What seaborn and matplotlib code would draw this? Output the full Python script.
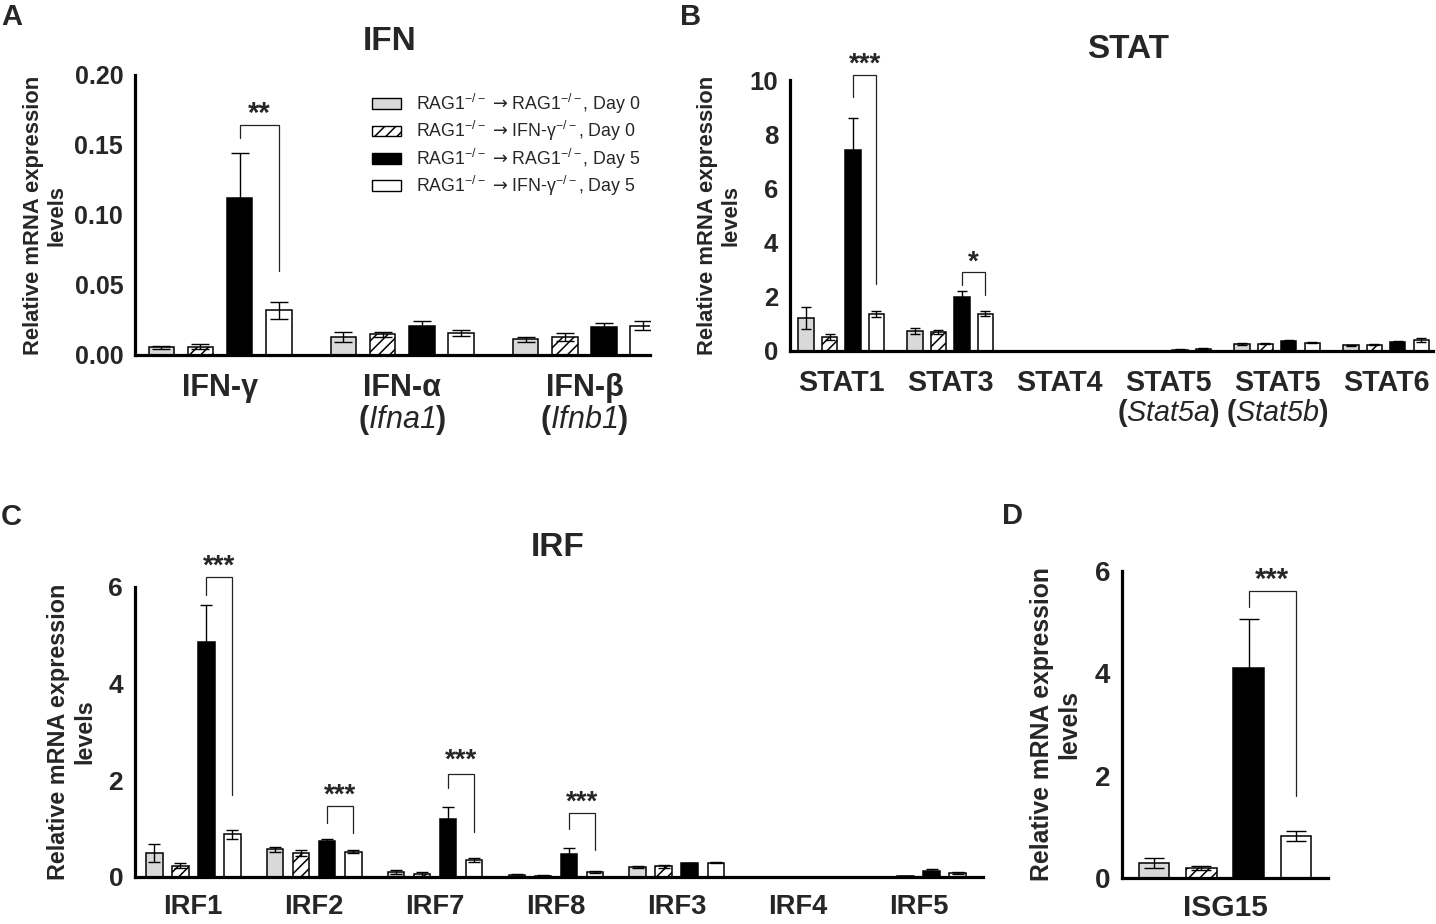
import numpy as np
import pandas as pd
import matplotlib
matplotlib.use("Agg")
import matplotlib.pyplot as plt
from matplotlib.patches import Patch
import seaborn as sns

sns.set_style("white")
plt.rcParams['font.family'] = ['Liberation Sans', 'DejaVu Sans']
plt.rcParams['mathtext.fontset'] = 'custom'
plt.rcParams['mathtext.rm'] = 'Liberation Sans'
plt.rcParams['mathtext.it'] = 'Liberation Sans:italic'
plt.rcParams['mathtext.sf'] = 'Liberation Sans:italic'
plt.rcParams['mathtext.bf'] = 'Liberation Sans:bold'
plt.rcParams['mathtext.cal'] = 'DejaVu Sans'
plt.rcParams['hatch.linewidth'] = 1.1

# ---------------- data ----------------
groups = [r'RAG1$^{-/-}$ $\mathcal{→}$ RAG1$^{-/-}$, Day 0',
          r'RAG1$^{-/-}$ $\mathcal{→}$ IFN-γ$^{-/-}$, Day 0',
          r'RAG1$^{-/-}$ $\mathcal{→}$ RAG1$^{-/-}$, Day 5',
          r'RAG1$^{-/-}$ $\mathcal{→}$ IFN-γ$^{-/-}$, Day 5']
group_colors = ['#d9d9d9', 'white', 'black', 'white']
group_hatch = ['', '///', '', '']

# Panel A: IFN
ifn_labels = ['IFN-γ', 'IFN-α\n($\\mathsf{Ifna1}$)', 'IFN-β\n($\\mathsf{Ifnb1}$)']
ifn_mean_d0_rag = [0.0055, 0.0130, 0.0113]
ifn_mean_d0_ifng = [0.0060, 0.0148, 0.0130]
ifn_mean_d5_rag = [0.1120, 0.0208, 0.0203]
ifn_mean_d5_ifng = [0.0320, 0.0158, 0.0210]
ifn_sem_d0_rag = [0.0009, 0.0035, 0.0017]
ifn_sem_d0_ifng = [0.0016, 0.0016, 0.0030]
ifn_sem_d5_rag = [0.0320, 0.0038, 0.0024]
ifn_sem_d5_ifng = [0.0060, 0.0022, 0.0030]

# Panel B: STAT
stat_labels = ['STAT1', 'STAT3', 'STAT4', 'STAT5\n($\\mathsf{Stat5a}$)',
               'STAT5\n($\\mathsf{Stat5b}$)', 'STAT6']
stat_mean_d0_rag = [1.22, 0.74, 0.005, 0.010, 0.26, 0.21]
stat_mean_d0_ifng = [0.52, 0.70, 0.005, 0.010, 0.27, 0.23]
stat_mean_d5_rag = [7.41, 2.00, 0.005, 0.050, 0.37, 0.34]
stat_mean_d5_ifng = [1.35, 1.38, 0.005, 0.090, 0.31, 0.41]
stat_sem_d0_rag = [0.40, 0.11, 0.0, 0.0, 0.03, 0.02]
stat_sem_d0_ifng = [0.12, 0.08, 0.0, 0.0, 0.02, 0.02]
stat_sem_d5_rag = [1.17, 0.22, 0.0, 0.01, 0.03, 0.03]
stat_sem_d5_ifng = [0.11, 0.09, 0.0, 0.02, 0.02, 0.06]

# Panel C: IRF
irf_labels = ['IRF1', 'IRF2', 'IRF7', 'IRF8', 'IRF3', 'IRF4', 'IRF5']
irf_mean_d0_rag = [0.50, 0.57, 0.10, 0.04, 0.20, 0.005, 0.01]
irf_mean_d0_ifng = [0.23, 0.50, 0.07, 0.03, 0.22, 0.005, 0.02]
irf_mean_d5_rag = [4.86, 0.75, 1.19, 0.48, 0.28, 0.005, 0.13]
irf_mean_d5_ifng = [0.88, 0.52, 0.35, 0.10, 0.30, 0.005, 0.08]
irf_sem_d0_rag = [0.19, 0.05, 0.04, 0.02, 0.02, 0.0, 0.0]
irf_sem_d0_ifng = [0.05, 0.06, 0.04, 0.01, 0.03, 0.0, 0.01]
irf_sem_d5_rag = [0.77, 0.04, 0.26, 0.12, 0.02, 0.0, 0.04]
irf_sem_d5_ifng = [0.09, 0.03, 0.04, 0.02, 0.02, 0.0, 0.02]

# Panel D: ISG15
isg_labels = ['ISG15']
isg_mean_d0_rag = [0.29]
isg_mean_d0_ifng = [0.20]
isg_mean_d5_rag = [4.11]
isg_mean_d5_ifng = [0.82]
isg_sem_d0_rag = [0.10]
isg_sem_d0_ifng = [0.04]
isg_sem_d5_rag = [0.96]
isg_sem_d5_ifng = [0.09]

# significance brackets: (category index, bracket top, left leg end, right leg end, label, label y)
ifn_brackets = [(0, 0.1643, 0.155, 0.060, '**', 0.1720)]
stat_brackets = [(0, 10.2, 9.38, 2.49, '***', 10.57), (1, 2.92, 2.43, 2.06, '*', 3.27)]
irf_brackets = [(0, 6.2, 5.84, 1.69, '***', 6.42), (1, 1.46, 1.12, 0.91, '***', 1.68),
                (2, 2.14, 1.85, 0.94, '***', 2.40), (3, 1.32, 1.00, 0.56, '***', 1.54)]
isg_brackets = [(0, 5.6, 5.3, 1.6, '***', 5.82)]

ylabel = 'Relative mRNA expression\nlevels'

W, H = 1436, 924
fig = plt.figure(figsize=(W / 100, H / 100), dpi=100)


def axes_px(left, right, top, bottom):
    return fig.add_axes([left / W, 1 - bottom / H, (right - left) / W, (bottom - top) / H])


def panel(ax, labels, means, sems, ymax, yticks, fmt, brackets, ylab_fs, ylab_x, bar_px,
          tick_fs, cat_fs, star_fs, cat_pad):
    rows = []
    for j, g in enumerate(groups):
        for i, lab in enumerate(labels):
            rows.append({'cat': lab, 'group': g, 'value': means[j][i]})
    df = pd.DataFrame(rows)
    sns.barplot(data=df, x='cat', y='value', hue='group', order=labels, hue_order=groups,
                palette=group_colors, saturation=1, width=0.86, gap=0.35,
                edgecolor='black', linewidth=1.1, errorbar=None, legend=False, ax=ax)
    bar_conts = list(ax.containers)
    cap = 0.33 * bar_px * 0.72
    centers = {}
    for j, cont in enumerate(bar_conts):
        for i, p in enumerate(cont):
            if group_hatch[j]:
                p.set_hatch(group_hatch[j])
            x = p.get_x() + p.get_width() / 2
            h = p.get_height()
            centers[(j, i)] = x
            if sems[j][i] > 0:
                ax.errorbar(x, h, yerr=sems[j][i], fmt='none', ecolor='black',
                            elinewidth=1.0, capsize=cap, capthick=1.0, zorder=3)
    for (i, top, l_end, r_end, lab, ly) in brackets:
        xl, xr = centers[(2, i)], centers[(3, i)]
        ax.plot([xl, xl, xr, xr], [l_end, top, top, r_end], color='#222222', lw=0.9,
                zorder=3, solid_joinstyle='miter', clip_on=False)
        ax.text((xl + xr) / 2, ly, lab, ha='center', va='center', fontsize=star_fs,
                fontweight='bold', clip_on=False)
    ax.set_ylim(0, ymax)
    ax.set_yticks(yticks)
    ax.set_yticklabels([fmt.format(v) for v in yticks])
    ax.set_xlabel('')
    ax.set_ylabel(ylabel, fontsize=ylab_fs, fontweight='bold', linespacing=1.15)
    ax.yaxis.set_label_coords(ylab_x, 0.5)
    for side in ['top', 'right']:
        ax.spines[side].set_visible(False)
    for side in ['left', 'bottom']:
        ax.spines[side].set_linewidth(2.3)
        ax.spines[side].set_color('black')
    ax.tick_params(axis='y', length=5.5, width=2.3, labelsize=tick_fs, pad=3, color='black')
    ax.tick_params(axis='x', length=0, labelsize=cat_fs, pad=cat_pad)
    for t in ax.get_yticklabels():
        t.set_fontweight('bold')
    for t in ax.get_xticklabels():
        t.set_fontweight('bold')
        t.set_linespacing(1.0)
    ax.set_facecolor('white')


# Panel A
axA = axes_px(135, 650, 75, 355)
panel(axA, ifn_labels,
      [ifn_mean_d0_rag, ifn_mean_d0_ifng, ifn_mean_d5_rag, ifn_mean_d5_ifng],
      [ifn_sem_d0_rag, ifn_sem_d0_ifng, ifn_sem_d5_rag, ifn_sem_d5_ifng],
      0.20, [0.00, 0.05, 0.10, 0.15, 0.20], '{:.2f}', ifn_brackets, 15.8, -0.132, 26,
      18, 22, 21, 13)
axA.set_xlim(-0.467, 2.36)

# Panel B
axB = axes_px(790, 1433, 80, 351)
panel(axB, stat_labels,
      [stat_mean_d0_rag, stat_mean_d0_ifng, stat_mean_d5_rag, stat_mean_d5_ifng],
      [stat_sem_d0_rag, stat_sem_d0_ifng, stat_sem_d5_rag, stat_sem_d5_ifng],
      10, [0, 2, 4, 6, 8, 10], '{:d}', stat_brackets, 15.8, -0.076, 14.5,
      18.5, 20.7, 20, 13)
axB.set_xlim(-0.47, 5.43)

# Panel C
axC = axes_px(135, 983, 587, 877)
panel(axC, irf_labels,
      [irf_mean_d0_rag, irf_mean_d0_ifng, irf_mean_d5_rag, irf_mean_d5_ifng],
      [irf_sem_d0_rag, irf_sem_d0_ifng, irf_sem_d5_rag, irf_sem_d5_ifng],
      6, [0, 2, 4, 6], '{:d}', irf_brackets, 16.8, -0.046, 16.7,
      19, 19.7, 20, 12.5)
axC.set_xlim(-0.48, 6.53)

# Panel D
axD = axes_px(1122, 1328, 571, 878)
panel(axD, isg_labels,
      [isg_mean_d0_rag, isg_mean_d0_ifng, isg_mean_d5_rag, isg_mean_d5_ifng],
      [isg_sem_d0_rag, isg_sem_d0_ifng, isg_sem_d5_rag, isg_sem_d5_ifng],
      6, [0, 2, 4, 6], '{:d}', isg_brackets, 17.8, -0.199, 31,
      20, 21.5, 21, 11.5)
axD.set_xlim(-0.468, 0.468)

# legend
handles = [Patch(facecolor=c, edgecolor='black', hatch=h, linewidth=1.0, label=g)
           for g, c, h in zip(groups, group_colors, group_hatch)]
axA.legend(handles=handles, loc='upper left', bbox_to_anchor=(372 / W, 1 - 92 / H),
           bbox_transform=fig.transFigure, frameon=False, fontsize=12.8,
           handlelength=1.65, handleheight=0.55, handletextpad=0.85, labelspacing=0.18,
           borderpad=0, borderaxespad=0)

# titles and panel letters
fig.text(390 / W, 1 - 41 / H, 'IFN', ha='center', va='center', fontsize=24, fontweight='bold')
fig.text(1128 / W, 1 - 49 / H, 'STAT', ha='center', va='center', fontsize=24, fontweight='bold')
fig.text(558 / W, 1 - 547 / H, 'IRF', ha='center', va='center', fontsize=24, fontweight='bold')
for lx, ly, letter in [(1, 17, 'A'), (680, 17, 'B'), (1, 517, 'C'), (1002, 516, 'D')]:
    fig.text(lx / W, 1 - ly / H, letter, ha='left', va='center', fontsize=21, fontweight='bold')

fig.savefig('out.png', dpi=100, facecolor='white')
